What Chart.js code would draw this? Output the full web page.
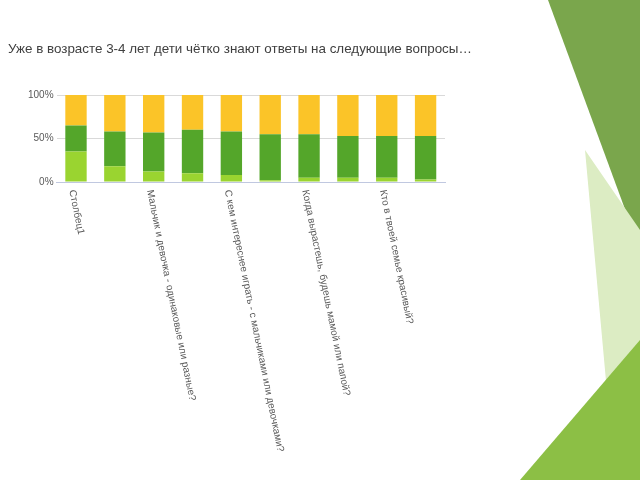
<!DOCTYPE html>
<html>
<head>
<meta charset="utf-8">
<script src="https://cdn.jsdelivr.net/npm/chart.js"></script>
<style>
  body { margin: 0; background: #fff; }
  #wrap { position: relative; width: 640px; height: 480px; }
  #title { position: absolute; left: 8px; top: 41px; font: 13.4px "Liberation Sans", Arial, sans-serif; color: #404040; z-index: 2; }
</style>
</head>
<body>
<div id="wrap">
  <div id="title">Уже в возрасте 3-4 лет дети чётко знают ответы на следующие вопросы…</div>
  <canvas id="c" width="640" height="480"></canvas>
</div>
<script>
  var categories = ['Столбец1', '', 'Мальчик и девочка - одинаковые или разные?', '',
    'С кем интереснее играть - с мальчиками или девочками?', '',
    'Когда вырастешь, будешь мамой или папой?', '', 'Кто в твоей семье красивый?', ''];
  var seriesLight = [35, 18, 12, 10, 8, 2, 5, 5, 5, 3];
  var seriesGreen = [30, 40, 45, 50, 50, 53, 50, 48, 48, 50];
  var seriesYellow = [35, 42, 43, 40, 42, 45, 45, 47, 47, 47];

  var decor = {
    id: 'decor',
    beforeDraw: function (chart) {
      var g = chart.ctx;
      g.save();
      function poly(pts, col) {
        g.fillStyle = col; g.beginPath();
        g.moveTo(pts[0][0], pts[0][1]);
        for (var i = 1; i < pts.length; i++) g.lineTo(pts[i][0], pts[i][1]);
        g.closePath(); g.fill();
      }
      poly([[548, 0], [640, 0], [640, 250]], '#7aa64c');
      poly([[585, 150], [640, 230], [640, 480], [615, 480]], '#dcecc3');
      poly([[520, 480], [640, 340], [640, 480]], '#8cbf45');
      g.restore();
    },
    afterDraw: function (chart) {
      var g = chart.ctx, x = chart.scales.x, y = chart.scales.y;
      g.save();
      g.fillStyle = '#595959';
      g.font = '10px "Liberation Sans", Arial, sans-serif';
      g.textBaseline = 'middle';
      categories.forEach(function (c, i) {
        if (!c) return;
        g.save();
        g.translate(x.getPixelForValue(i) - 4, y.bottom + 8);
        g.rotate(Math.PI / 2 - 0.2);
        g.fillText(c, 0, 0);
        g.restore();
      });
      g.restore();
    }
  };

  new Chart(document.getElementById('c'), {
    type: 'bar',
    data: {
      labels: categories,
      datasets: [
        { data: seriesLight, backgroundColor: '#9ad430' },
        { data: seriesGreen, backgroundColor: '#54a62a' },
        { data: seriesYellow, backgroundColor: '#fbc428' }
      ]
    },
    options: {
      responsive: false,
      animation: false,
      layout: { padding: { top: 95, right: 195, bottom: 290, left: 25 } },
      plugins: { legend: { display: false }, tooltip: { enabled: false } },
      datasets: { bar: { categoryPercentage: 0.55, barPercentage: 1 } },
      scales: {
        x: { stacked: true, ticks: { display: false }, grid: { display: false },
             border: { color: '#c0c8e0', dash: [3, 4] } },
        y: { stacked: true, min: 0, max: 100,
             ticks: { stepSize: 50, color: '#595959', font: { size: 10 },
                      callback: function (v) { return v + '%'; } },
             grid: { color: '#d9d9d9', drawTicks: false }, border: { display: false } }
      }
    },
    plugins: [decor]
  });
</script>
</body>
</html>
